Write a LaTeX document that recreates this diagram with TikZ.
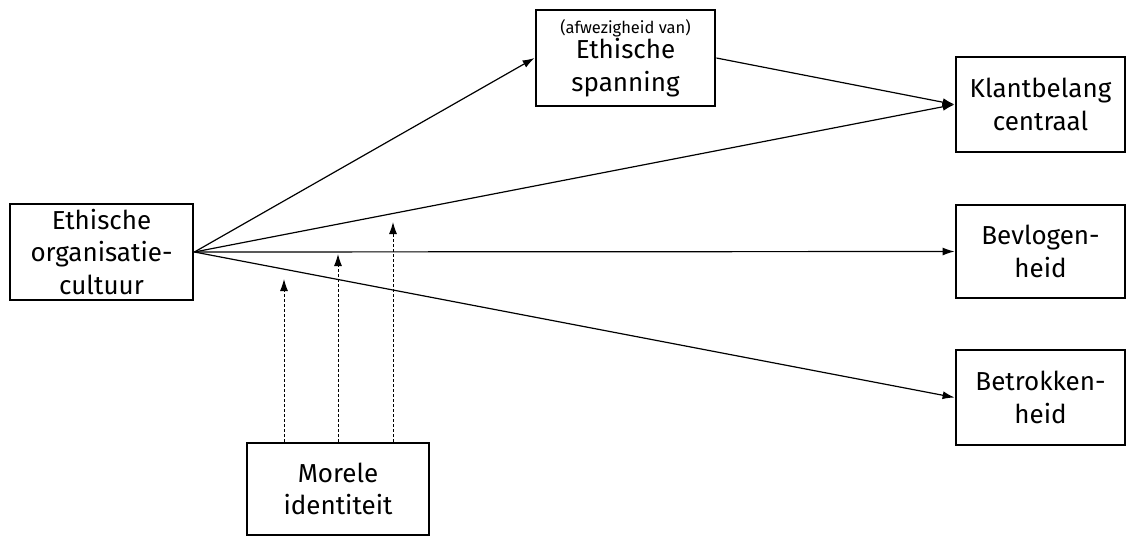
\documentclass[tikz,border=0pt]{standalone}
\usepackage{fontspec}
\setmainfont{Fira Sans}
\usetikzlibrary{arrows.meta}
\begin{document}
\begin{tikzpicture}[x=1pt,y=-1pt,
  box/.style={draw, line width=2.8pt, align=center, inner sep=0pt,
    font=\fontsize{26}{32.5}\selectfont},
  arr/.style={line width=1.2pt, -{Latex[length=12pt,width=8pt]}},
  modarr/.style={line width=1pt, dash pattern=on 3pt off 2pt, -{Latex[length=12pt,width=8pt]}}]
\useasboundingbox (0,0) rectangle (1129,538);
\node[box, minimum width=183pt, minimum height=96pt] (eoc) at (101.5,252) {Ethische\\organisatie-\\cultuur};
\node[box, minimum width=179pt, minimum height=96pt] (es) at (625.5,58) {{\fontsize{16.5}{15}\selectfont (afwezigheid van)}\\[-7pt]Ethische\\spanning};
\node[box, minimum width=169pt, minimum height=95pt] (kb) at (1040.5,104.5) {Klantbelang\\centraal};
\node[box, minimum width=169pt, minimum height=93pt] (bv) at (1040.5,251.5) {Bevlogen-\\heid};
\node[box, minimum width=169pt, minimum height=95pt] (bt) at (1040.5,397.5) {Betrokken-\\heid};
\node[box, minimum width=182pt, minimum height=92pt] (mi) at (338,489) {Morele\\identiteit};
\draw[arr] (eoc.east) -- (es.west);
\draw[arr] (es.east) -- (kb.west);
\draw[arr] (eoc.east) -- (kb.west);
\draw[arr] (eoc.east) -- (bv.west);
\draw[arr] (eoc.east) -- (bt.west);
\coordinate (t1) at (284,279);
\coordinate (t2) at (338,254);
\coordinate (t3) at (393,222);
\draw[modarr] (mi.north -| t1) -- (t1);
\draw[modarr] (mi.north -| t2) -- (t2);
\draw[modarr] (mi.north -| t3) -- (t3);
\end{tikzpicture}
\end{document}
